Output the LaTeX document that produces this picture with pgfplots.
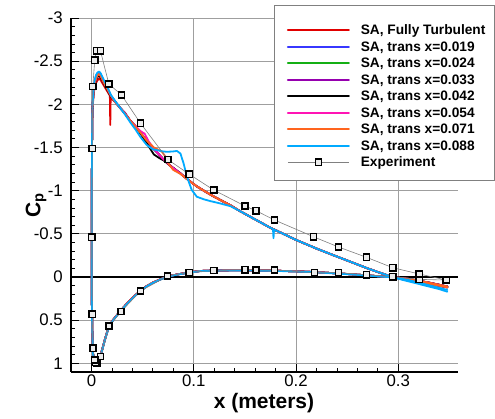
\documentclass[border=0pt]{standalone}
\usepackage{pgfplots}
\pgfplotsset{compat=1.18}
\usepackage{pgfplotstable}
\usepackage{fontspec}
\setmainfont{Liberation Sans}

\definecolor{cRed}{RGB}{225,0,0}
\definecolor{cBlue}{RGB}{55,55,255}
\definecolor{cGreen}{RGB}{20,175,20}
\definecolor{cPurple}{RGB}{150,0,175}
\definecolor{cMag}{RGB}{255,20,180}
\definecolor{cOrange}{RGB}{255,100,30}
\definecolor{cLBlue}{RGB}{0,170,255}

% lower surface (TE -> LE), shared
\pgfplotstableread{
x y
0.348 0.11
0.340 0.09
0.330 0.065
0.320 0.042
0.310 0.022
0.300 0.008
0.2946 0.002
0.280 -0.01
0.269 -0.02
0.250 -0.035
0.235 -0.046
0.217 -0.058
0.200 -0.066
0.180 -0.073
0.160 -0.077
0.140 -0.078
0.120 -0.076
0.1064 -0.07
0.0957 -0.054
0.085 -0.032
0.0745 -0.008
0.0674 0.027
0.060 0.065
0.054 0.105
0.048 0.16
0.042 0.22
0.036 0.29
0.030 0.37
0.025 0.44
0.021 0.50
0.0172 0.57
0.015 0.65
0.013 0.73
0.011 0.82
0.0088 0.91
0.0068 0.97
0.005 1.00
0.0035 1.00
0.0025 0.97
0.0015 0.88
0.0008 0.60
0.0004 0.30
0.0002 0.0
0.0002 -0.5
0.0004 -1.2
0.0007 -1.7
0.001 -1.95
}\lowerS

\pgfplotstableread{
x y
0.348 0.15
0.340 0.125
0.330 0.095
0.320 0.065
0.310 0.035
0.300 0.012
0.2946 0.004
0.280 -0.008
0.269 -0.018
0.250 -0.033
0.235 -0.044
0.217 -0.056
0.200 -0.064
0.180 -0.071
0.160 -0.075
0.140 -0.076
0.120 -0.074
0.1064 -0.068
0.0957 -0.052
0.085 -0.030
0.0745 -0.005
0.0674 0.030
0.060 0.068
0.054 0.108
0.048 0.165
0.042 0.225
0.036 0.295
0.030 0.375
0.025 0.445
0.021 0.505
0.0172 0.575
0.015 0.655
0.013 0.735
0.011 0.825
0.0088 0.915
0.0068 0.975
0.005 1.00
0.0035 1.00
0.0025 0.97
0.0015 0.88
0.0008 0.60
0.0004 0.30
0.0002 0.0
0.0002 -0.5
0.0004 -1.2
0.0007 -1.7
0.001 -1.97
}\lowerLB

% upper surfaces
\pgfplotstableread{
x y
0.001 -1.93
0.002 -2.10
0.003 -2.19
0.0045 -2.25
0.006 -2.28
0.0075 -2.30
0.009 -2.28
0.011 -2.24
0.013 -2.20
0.016 -2.14
0.0180 -2.10
0.0184 -1.76
0.0188 -2.08
0.023 -2.03
0.028 -1.96
0.033 -1.89
0.038 -1.81
0.043 -1.74
0.048 -1.67
0.054 -1.58
0.061 -1.48
0.066 -1.42
0.0706 -1.36
0.077 -1.29
0.082 -1.245
0.087 -1.20
0.095 -1.12
0.103 -1.05
0.112 -0.985
0.120 -0.93
0.128 -0.88
0.136 -0.83
0.145 -0.765
0.155 -0.70
0.165 -0.635
0.175 -0.57
0.185 -0.515
0.200 -0.43
0.210 -0.38
0.220 -0.33
0.235 -0.26
0.253 -0.178
0.270 -0.10
0.282 -0.05
0.292 -0.01
0.300 0.015
0.310 0.038
0.320 0.058
0.330 0.076
0.340 0.094
0.348 0.11
}\upRed

\pgfplotstableread{
x y
0.001 -1.97
0.002 -2.16
0.003 -2.26
0.0045 -2.33
0.006 -2.36
0.0075 -2.37
0.009 -2.35
0.011 -2.30
0.013 -2.25
0.016 -2.18
0.019 -2.10
0.023 -2.04
0.028 -1.96
0.033 -1.89
0.038 -1.81
0.043 -1.74
0.048 -1.67
0.054 -1.58
0.061 -1.48
0.066 -1.42
0.0706 -1.36
0.077 -1.29
0.082 -1.245
0.087 -1.20
0.095 -1.12
0.103 -1.05
0.112 -0.985
0.120 -0.93
0.128 -0.88
0.136 -0.83
0.145 -0.765
0.155 -0.70
0.165 -0.635
0.175 -0.57
0.185 -0.515
0.200 -0.43
0.210 -0.38
0.220 -0.33
0.235 -0.26
0.253 -0.178
0.270 -0.10
0.282 -0.05
0.292 -0.01
0.300 0.015
0.310 0.04
0.320 0.06
0.330 0.08
0.340 0.10
0.348 0.12
}\upBlue

\pgfplotstableread{
x y
0.001 -1.96
0.002 -2.14
0.003 -2.24
0.0045 -2.30
0.006 -2.34
0.0075 -2.35
0.009 -2.33
0.011 -2.28
0.013 -2.23
0.016 -2.17
0.019 -2.10
0.024 -2.02
0.028 -1.96
0.033 -1.89
0.038 -1.81
0.043 -1.74
0.048 -1.67
0.054 -1.58
0.061 -1.48
0.066 -1.42
0.0706 -1.36
0.077 -1.29
0.082 -1.245
0.087 -1.20
0.095 -1.12
0.103 -1.05
0.112 -0.985
0.120 -0.93
0.128 -0.88
0.136 -0.83
0.145 -0.765
0.155 -0.70
0.165 -0.635
0.175 -0.57
0.185 -0.515
0.200 -0.43
0.210 -0.38
0.220 -0.33
0.235 -0.26
0.253 -0.178
0.270 -0.10
0.282 -0.05
0.292 -0.01
0.300 0.015
0.310 0.04
0.320 0.06
0.330 0.08
0.340 0.10
0.348 0.12
}\upGreen

\pgfplotstableread{
x y
0.001 -1.96
0.002 -2.14
0.003 -2.23
0.0045 -2.29
0.006 -2.33
0.0075 -2.34
0.009 -2.32
0.011 -2.27
0.013 -2.23
0.016 -2.17
0.019 -2.10
0.023 -2.03
0.028 -1.96
0.033 -1.90
0.038 -1.81
0.043 -1.74
0.048 -1.67
0.054 -1.58
0.061 -1.48
0.066 -1.42
0.0706 -1.36
0.077 -1.29
0.082 -1.245
0.087 -1.20
0.095 -1.12
0.103 -1.05
0.112 -0.985
0.120 -0.93
0.128 -0.88
0.136 -0.83
0.145 -0.765
0.155 -0.70
0.165 -0.635
0.175 -0.57
0.185 -0.515
0.200 -0.43
0.210 -0.38
0.220 -0.33
0.235 -0.26
0.253 -0.178
0.270 -0.10
0.282 -0.05
0.292 -0.01
0.300 0.015
0.310 0.04
0.320 0.06
0.330 0.08
0.340 0.10
0.348 0.12
}\upPurple

\pgfplotstableread{
x y
0.001 -1.95
0.002 -2.13
0.003 -2.22
0.0045 -2.29
0.006 -2.32
0.0075 -2.33
0.009 -2.31
0.011 -2.27
0.013 -2.22
0.016 -2.16
0.019 -2.09
0.023 -2.03
0.028 -1.96
0.033 -1.89
0.038 -1.81
0.043 -1.75
0.048 -1.66
0.054 -1.55
0.061 -1.42
0.066 -1.38
0.0706 -1.35
0.077 -1.29
0.082 -1.245
0.087 -1.20
0.095 -1.12
0.103 -1.05
0.112 -0.985
0.120 -0.93
0.128 -0.88
0.136 -0.83
0.145 -0.765
0.155 -0.70
0.165 -0.635
0.175 -0.57
0.185 -0.515
0.200 -0.43
0.210 -0.38
0.220 -0.33
0.235 -0.26
0.253 -0.178
0.270 -0.10
0.282 -0.05
0.292 -0.01
0.300 0.015
0.310 0.04
0.320 0.06
0.330 0.08
0.340 0.10
0.348 0.12
}\upBlack

\pgfplotstableread{
x y
0.001 -1.96
0.002 -2.14
0.003 -2.24
0.0045 -2.30
0.006 -2.34
0.0075 -2.35
0.009 -2.33
0.011 -2.28
0.013 -2.23
0.016 -2.17
0.019 -2.10
0.023 -2.03
0.028 -1.96
0.033 -1.89
0.038 -1.81
0.043 -1.75
0.048 -1.69
0.052 -1.66
0.056 -1.57
0.061 -1.49
0.066 -1.42
0.0706 -1.36
0.077 -1.29
0.082 -1.245
0.087 -1.20
0.095 -1.12
0.103 -1.05
0.112 -0.985
0.120 -0.93
0.128 -0.88
0.136 -0.83
0.145 -0.765
0.155 -0.70
0.165 -0.635
0.175 -0.57
0.185 -0.515
0.200 -0.43
0.210 -0.38
0.220 -0.33
0.235 -0.26
0.253 -0.178
0.270 -0.10
0.282 -0.05
0.292 -0.01
0.300 0.015
0.310 0.04
0.320 0.06
0.330 0.08
0.340 0.10
0.348 0.12
}\upMag

\pgfplotstableread{
x y
0.001 -1.96
0.002 -2.14
0.003 -2.24
0.0045 -2.30
0.006 -2.34
0.0075 -2.35
0.009 -2.33
0.011 -2.28
0.013 -2.23
0.016 -2.17
0.019 -2.10
0.023 -2.03
0.028 -1.96
0.033 -1.89
0.038 -1.81
0.043 -1.74
0.048 -1.67
0.054 -1.58
0.061 -1.50
0.066 -1.47
0.069 -1.45
0.072 -1.40
0.0755 -1.31
0.080 -1.24
0.087 -1.195
0.095 -1.12
0.103 -1.05
0.112 -0.985
0.120 -0.93
0.128 -0.88
0.136 -0.83
0.145 -0.765
0.155 -0.70
0.165 -0.635
0.175 -0.57
0.185 -0.515
0.200 -0.43
0.210 -0.38
0.220 -0.33
0.235 -0.26
0.253 -0.178
0.270 -0.10
0.282 -0.05
0.292 -0.01
0.300 0.015
0.310 0.04
0.320 0.06
0.330 0.08
0.340 0.10
0.348 0.12
}\upOrange

\pgfplotstableread{
x y
0.001 -1.98
0.002 -2.17
0.003 -2.27
0.0045 -2.34
0.006 -2.37
0.0075 -2.38
0.009 -2.36
0.011 -2.31
0.013 -2.26
0.016 -2.19
0.019 -2.11
0.023 -2.04
0.028 -1.96
0.033 -1.88
0.038 -1.79
0.043 -1.71
0.048 -1.62
0.054 -1.53
0.060 -1.48
0.064 -1.47
0.070 -1.455
0.074 -1.45
0.080 -1.455
0.0836 -1.46
0.087 -1.43
0.090 -1.32
0.0934 -1.16
0.098 -1.01
0.103 -0.93
0.110 -0.90
0.116 -0.88
0.125 -0.855
0.136 -0.82
0.145 -0.765
0.155 -0.70
0.165 -0.635
0.175 -0.57
0.1775 -0.556
0.1780 -0.45
0.1785 -0.55
0.185 -0.515
0.200 -0.43
0.210 -0.38
0.220 -0.33
0.235 -0.26
0.253 -0.178
0.270 -0.10
0.282 -0.05
0.292 -0.01
0.300 0.02
0.310 0.05
0.320 0.08
0.330 0.11
0.340 0.14
0.348 0.17
}\upLBlue

% experiment
\pgfplotstableread{
x y
0.347 0.035
0.3206 0.027
0.2946 -0.004
0.269 -0.027
0.2415 -0.05
0.218 -0.05
0.179 -0.081
0.161 -0.081
0.150 -0.085
0.1195 -0.075
0.0957 -0.054
0.0745 -0.012
0.048 0.162
0.029 0.40
0.0172 0.568
0.0088 0.92
0.0055 1.0
0.0042 0.99
0.0032 0.96
0.0016 0.826
0.0007 0.432
0.0002 -0.46
0.0007 -1.49
0.0013 -2.205
0.0032 -2.51
0.0049 -2.62
0.0088 -2.62
0.017 -2.236
0.0293 -2.11
0.048 -1.78
0.0748 -1.36
0.0957 -1.19
0.1195 -1.008
0.150 -0.823
0.161 -0.768
0.179 -0.66
0.217 -0.467
0.2415 -0.348
0.269 -0.228
0.2946 -0.108
0.3206 -0.035
0.347 0.035
}\expdata

\begin{document}
\begin{tikzpicture}
\useasboundingbox (-71pt,-46pt) rectangle (424pt,372pt);
\begin{axis}[
  scale only axis, width=387pt, height=354pt,
  at={(0pt,0pt)}, anchor=south west,
  xmin=-0.02, xmax=0.3584, ymin=-3, ymax=1.1, y dir=reverse,
  axis x line*=bottom, axis y line*=left,
  axis line style={-, line width=1.6pt, black},
  xtick={0,0.1,0.2,0.3},
  ytick={-3,-2.5,-2,-1.5,-1,-0.5,0,0.5,1},
  minor x tick num=4, minor y tick num=4,
  tick align=inside, major tick length=8pt, minor tick length=4pt,
  every tick/.style={black, line width=0.8pt},
  grid=major, major grid style={gray!75, line width=0.8pt},
  extra y ticks={0}, extra y tick labels={},
  extra y tick style={major grid style={black, line width=1.5pt}, major tick length=0pt},
  /pgf/number format/assume math mode=true,
  /pgf/number format/fixed,
  tick label style={font=\fontsize{16.8}{18}\selectfont},
  xticklabel style={anchor=north, inner sep=0pt, yshift=-3pt},
  yticklabel style={anchor=east, inner sep=0pt, xshift=-8pt},
  xlabel={\bfseries x (meters)},
  xlabel style={font=\fontsize{21}{24}\selectfont, at={(axis description cs:0.4987,-0.1017)}, anchor=base},
  ylabel={\bfseries C\textsubscript{p}},
  ylabel style={font=\fontsize{21}{24}\selectfont, at={(axis description cs:-0.0904,0.472)}, anchor=center},
  clip=false,
  cfd/.style={line width=1.8pt, line join=round, line cap=round},
  legend image code/.code={\draw[mark repeat=2,mark phase=2,#1] plot coordinates {(0pt,0pt) (30.5pt,0pt) (61pt,0pt)};},
  legend cell align=left,
  legend style={draw=none, fill=none, at={(axis description cs:0.5581,0.984)}, anchor=north west,
    inner sep=0pt, outer sep=0pt, row sep=3.5pt, column sep=11pt,
    font=\fontsize{13.7}{16}\selectfont\bfseries,
    nodes={inner sep=0pt, text height=11.3pt, text depth=1.7pt}},
]
\draw[gray, line width=0.8pt, fill=white] (axis description cs:0.5245,1.0367) rectangle (axis description cs:1.0930,0.5424);

\addplot[cfd, cRed, forget plot] table {\lowerS};
\addplot[cfd, cRed] table {\upRed};
\addlegendentry{SA, Fully Turbulent}
\addplot[cfd, cBlue, forget plot] table {\lowerS};
\addplot[cfd, cBlue] table {\upBlue};
\addlegendentry{SA, trans x=0.019}
\addplot[cfd, cGreen, forget plot] table {\lowerS};
\addplot[cfd, cGreen] table {\upGreen};
\addlegendentry{SA, trans x=0.024}
\addplot[cfd, cPurple, forget plot] table {\lowerS};
\addplot[cfd, cPurple] table {\upPurple};
\addlegendentry{SA, trans x=0.033}
\addplot[cfd, black, forget plot] table {\lowerS};
\addplot[cfd, black] table {\upBlack};
\addlegendentry{SA, trans x=0.042}
\addplot[cfd, cMag, forget plot] table {\lowerS};
\addplot[cfd, cMag] table {\upMag};
\addlegendentry{SA, trans x=0.054}
\addplot[cfd, cOrange, forget plot] table {\lowerS};
\addplot[cfd, cOrange] table {\upOrange};
\addlegendentry{SA, trans x=0.071}
\addplot[cfd, cLBlue, forget plot] table {\lowerLB};
\addplot[cfd, cLBlue] table {\upLBlue};
\addlegendentry{SA, trans x=0.088}
\addplot[gray, line width=0.6pt, mark=square*, mark size=3.1pt,
  mark options={solid, draw=black, fill=white!85!gray, line width=1.5pt}] table {\expdata};
\addlegendentry{Experiment}
\end{axis}
\end{tikzpicture}
\end{document}
